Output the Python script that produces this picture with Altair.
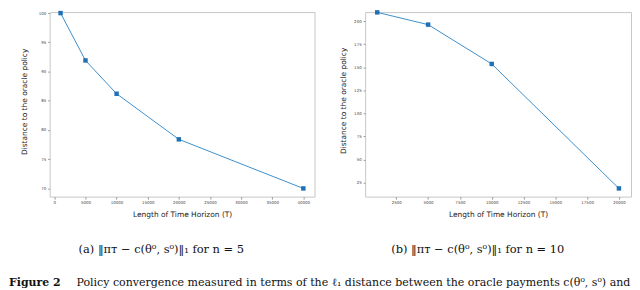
import altair as alt
import pandas as pd

# ---- data ----
horizon_a = [1000, 5000, 10000, 20000, 40000]
dist_a = [100.0, 91.9, 86.2, 78.4, 70.0]
horizon_b = [1000, 5000, 10000, 20000]
dist_b = [209.7, 196.4, 153.7, 18.5]

x_ticks_a = [0, 5000, 10000, 15000, 20000, 25000, 30000, 35000, 40000]
y_ticks_a = [70, 75, 80, 85, 90, 95, 100]
x_ticks_b = [2500, 5000, 7500, 10000, 12500, 15000, 17500, 20000]
y_ticks_b = [25, 50, 75, 100, 125, 150, 175, 200]

x_title = "Length of Time Horizon (T)"
y_title = "Distance to the oracle policy"
caption_a = "(a) \u2016\u03c0\u1d1b \u2212 c(\u03b8\u2070, s\u2070)\u2016\u2081 for n = 5"
caption_b = "(b) \u2016\u03c0\u1d1b \u2212 c(\u03b8\u2070, s\u2070)\u2016\u2081 for n = 10"
fig_label = "Figure 2"
fig_text = "Policy convergence measured in terms of the \u2113\u2081 distance between the oracle payments c(\u03b8\u2070, s\u2070) and"

LINE = "#3d8fcc"
MARK = "#1f6fb4"
SANS = "DejaVu Sans"
SERIF = "DejaVu Serif"


def x_axis(values):
    return alt.Axis(values=values, format="d", title=x_title, grid=False, domain=False,
                    titleFont=SANS, titleFontSize=7.5, titleFontWeight="normal", titleColor="#222",
                    titleBaseline="middle", titleY=18.5,
                    labelFont=SANS, labelFontSize=4, labelColor="#444", labelPadding=1.5,
                    labelOverlap=False, labelFlush=False,
                    tickSize=2.5, tickColor="#999")


def y_axis(values, tx, ty):
    return alt.Axis(values=values, format="d", title=y_title, grid=False, domain=False,
                    titleFont=SANS, titleFontSize=7.5, titleFontWeight="normal", titleColor="#222",
                    titleAngle=270, titleBaseline="bottom", titleAlign="center", titleX=tx, titleY=ty,
                    labelFont=SANS, labelFontSize=4, labelColor="#444", labelPadding=2,
                    labelOverlap=False, labelFlush=False,
                    tickSize=2, tickColor="#999")


def panel(xs, ys, xdom, ydom, xt, yt, tx, ty):
    df = pd.DataFrame({"T": xs, "D": ys})
    base = alt.Chart(df).encode(
        x=alt.X("T:Q", scale=alt.Scale(domain=xdom, nice=False, zero=False), axis=x_axis(xt)),
        y=alt.Y("D:Q", scale=alt.Scale(domain=ydom, nice=False, zero=False), axis=y_axis(yt, tx, ty)),
    )
    line = base.mark_line(color=LINE, strokeWidth=1)
    pts = base.mark_point(shape="square", filled=True, size=20, color=MARK, opacity=1)
    return line, pts, df


la, pa, dfa = panel(horizon_a, dist_a, [-750, 41800], [68.6, 100.17], x_ticks_a, y_ticks_a, -21, 90)
spacer = alt.Chart(dfa).mark_rule(opacity=0).encode(x=alt.value(-41), y=alt.value(0), y2=alt.value(1))
left = alt.layer(spacer, la, pa).properties(width=267, height=186)

lb, pb, dfb = panel(horizon_b, dist_b, [50, 20950], [9.6, 210.0], x_ticks_b, y_ticks_b, -18, 89)
right = alt.layer(lb, pb).properties(width=268, height=186)

top = alt.hconcat(left, right, spacing=23)

one = pd.DataFrame({"k": [0]})
cap_a = alt.Chart(one).mark_text(text=caption_a, font=SERIF, fontSize=11.5, align="center",
                                 baseline="middle", color="#111").encode(x=alt.value(112.5), y=alt.value(30))
cap_b = alt.Chart(one).mark_text(text=caption_b, font=SERIF, fontSize=11.5, align="center",
                                 baseline="middle", color="#111").encode(x=alt.value(431.5), y=alt.value(30))
fl = alt.Chart(one).mark_text(text=fig_label, font=SERIF, fontSize=11, fontWeight="bold", align="left",
                              baseline="middle", color="#111").encode(x=alt.value(-41), y=alt.value(63))
ft = alt.Chart(one).mark_text(text=fig_text, font=SERIF, fontSize=11.1, align="left",
                              baseline="middle", color="#111").encode(x=alt.value(27), y=alt.value(63))
captions = alt.layer(cap_a, cap_b, fl, ft).properties(
    width=500, height=60, view=alt.ViewBackground(stroke="transparent"))

chart = alt.vconcat(top, captions, spacing=0).properties(padding=0, background="white").configure_view(
    stroke="#c6c6c6", strokeWidth=1)

chart.save("out.html", embed_options={"renderer": "svg", "actions": False})
